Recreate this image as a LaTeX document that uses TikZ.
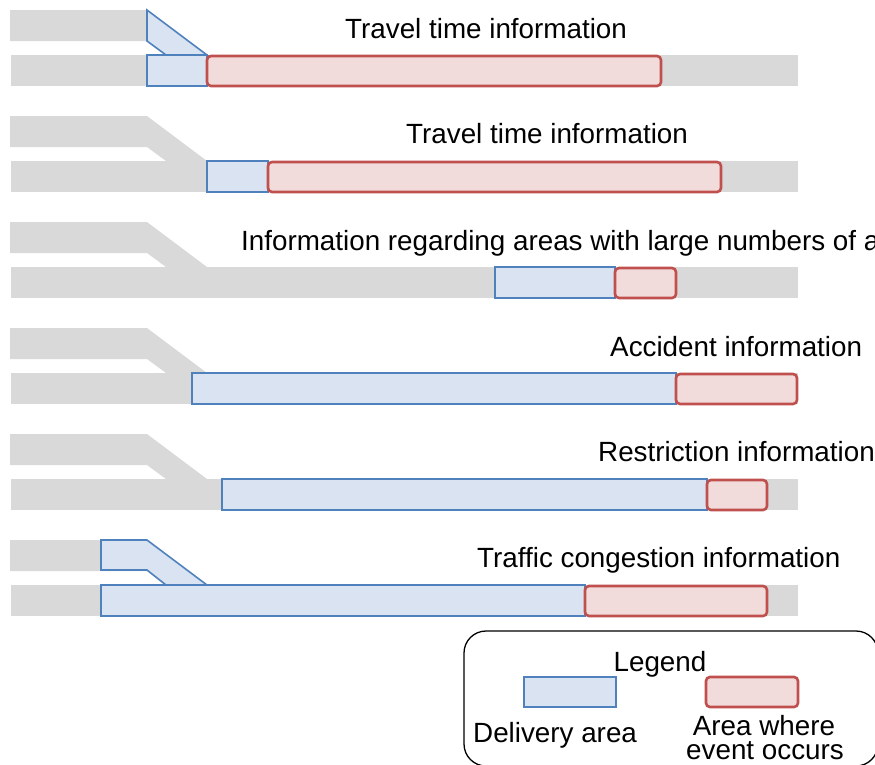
\documentclass[tikz,border=0pt]{standalone}
\usepackage{fontspec}
\setmainfont{Liberation Sans}
\definecolor{road}{HTML}{D9D9D9}
\definecolor{delfill}{HTML}{DAE3F1}
\definecolor{deldraw}{HTML}{4F81BD}
\definecolor{evfill}{HTML}{F2DCDB}
\definecolor{evdraw}{HTML}{C0504D}
\tikzset{
  roadpart/.style={fill=road, draw=none},
  delivery/.style={fill=delfill, draw=deldraw, line width=1.6pt, line join=miter},
  eventarea/.style={fill=evfill, draw=evdraw, line width=2.6pt, rounded corners=4pt},
  lbl/.style={inner sep=0pt, font=\fontsize{27.8}{32}\selectfont},
  legendbox/.style={draw=black, line width=1.3pt, rounded corners=22pt}
}
\begin{document}
\begin{tikzpicture}[x=1pt,y=-1pt]
\useasboundingbox (0,0) rectangle (875,764);
\clip (0,0) rectangle (875,764);
% roads
\foreach \k in {0,...,5}{
  \pgfmathsetmacro\o{106*\k}
  \fill[road] (10,{\o+10}) -- (147,{\o+10}) -- (207,{\o+55}) -- (166,{\o+55}) -- (147,{\o+41}) -- (10,{\o+41}) -- cycle;
  \fill[road] (11,{\o+55}) rectangle (798,{\o+86});
}
% row 1
\draw[delivery] (147,10) -- (207,55) -- (166,55) -- (147,41) -- cycle;
\draw[delivery] (147,55) rectangle (207,86);
\draw[eventarea] (207,56) rectangle (661,86);
\node[lbl, anchor=base west] (t1) at (345,38) {Travel time information};
% row 2
\draw[delivery] (207,161) rectangle (268,192);
\draw[eventarea] (268,162) rectangle (721,192);
\node[lbl, anchor=base west] (t2) at (406,143) {Travel time information};
% row 3
\draw[delivery] (495,267) rectangle (615,298);
\draw[eventarea] (615,268) rectangle (676,298);
\node[lbl, anchor=base west] (t3) at (241,250) {Information regarding areas with large numbers of accidents};
% row 4
\draw[delivery] (192,373) rectangle (676,404);
\draw[eventarea] (676,374) rectangle (797,404);
\node[lbl, anchor=base west] (t4) at (610,356) {Accident information};
% row 5
\draw[delivery] (222,479) rectangle (707,510);
\draw[eventarea] (707,480) rectangle (767,510);
\node[lbl, anchor=base west] (t5) at (598,461) {Restriction information};
% row 6
\draw[delivery] (101,540) -- (147,540) -- (207,585) -- (166,585) -- (147,570) -- (101,570) -- cycle;
\draw[delivery] (101,585) rectangle (585,616);
\draw[eventarea] (585,586) rectangle (767,616);
\node[lbl, anchor=base west] (t6) at (477,567) {Traffic congestion information};
% legend
\draw[legendbox] (464,631) rectangle (878,766);
\node[lbl, anchor=base] (lg) at (660,671) {Legend};
\draw[delivery] (524,677) rectangle (616,707);
\draw[eventarea] (706,677) rectangle (798,707);
\node[lbl, anchor=base west] (ld) at (473,742) {Delivery area};
\node[lbl, anchor=base] (le1) at (764,735) {Area where};
\node[lbl, anchor=base] (le2) at (765,759) {event occurs};
\end{tikzpicture}
\end{document}
